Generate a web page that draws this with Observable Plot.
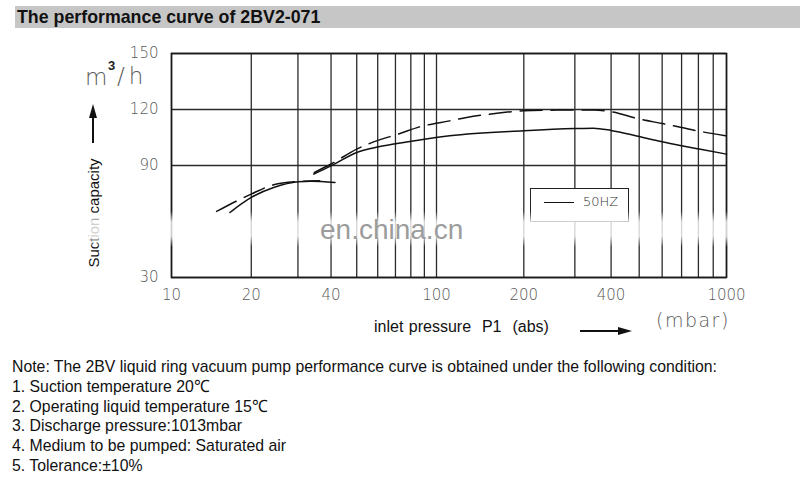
<!DOCTYPE html>
<html>
<head>
<meta charset="utf-8">
<script src="https://cdn.jsdelivr.net/npm/d3@7"></script>
<script src="https://cdn.jsdelivr.net/npm/@observablehq/plot@0.6"></script>
<style>
  html, body { margin: 0; padding: 0; background: #fff; }
  #wrap { position: relative; width: 800px; height: 481px; overflow: hidden; font-family: "Liberation Sans", Arial, sans-serif; }
  .abs { position: absolute; white-space: pre; }
  #title { left: 15px; top: 6px; width: 785px; height: 22px; background: #c6c6c6; font-weight: bold; font-size: 17.8px; line-height: 22px; color: #111; padding-left: 2px; box-sizing: border-box; }
  #chart { position: absolute; left: 0; top: 30px; }
  .cad { font-family: "DejaVu Sans", sans-serif; font-weight: 200; color: #5a5a5a; }
  #note { left: 12px; top: 357px; font-family: "Liberation Sans", Arial, sans-serif; font-size: 17px; line-height: 19.8px; color: #111; transform-origin: 0 0; }
</style>
</head>
<body>
<div id="wrap">
  <div id="title" class="abs">The performance curve of 2BV2-071</div>
  <div id="chart"></div>

  <!-- y axis unit and label -->
  <div class="abs cad" style="left:85px; top:64px; font-size:23px;">m</div>
  <div class="abs" style="left:108px; top:58px; font-size:13px; font-weight:bold; color:#222;">3</div>
  <div class="abs cad" style="left:117px; top:63px; font-size:23px; letter-spacing:4px;">/h</div>
  <div class="abs" style="left:92px; top:115px; width:1.5px; height:28px; background:#111;"></div>
  <div class="abs" style="left:89px; top:104px; width:0; height:0; border-left:4px solid transparent; border-right:4px solid transparent; border-bottom:14px solid #111;"></div>
  <div id="ylab" class="abs" style="left:93px; top:213px; transform: translate(-50%,-50%) rotate(-90deg); font-size:15px; color:#111;">Suction capacity</div>

  <!-- x axis label -->
  <div id="xlab" class="abs" style="left:374px; top:318px; font-size:16px; color:#111; word-spacing:1px;">inlet pressure  P1  (abs)</div>
  <div class="abs" style="left:580px; top:330px; width:40px; height:1.5px; background:#111;"></div>
  <div class="abs" style="left:618px; top:327px; width:0; height:0; border-top:4px solid transparent; border-bottom:4px solid transparent; border-left:14px solid #111;"></div>
  <div class="abs cad" style="left:656px; top:309px; font-size:19px; letter-spacing:1.5px;">(mbar)</div>

  <!-- legend -->
  <div id="legend" class="abs" style="left:530px; top:188px; width:99px; height:34px; border:1.3px solid #222; background:#fff; box-sizing:border-box;">
    <div class="abs" style="left:13px; top:13px; width:30px; height:1.4px; background:#111;"></div>
    <div class="abs cad" style="left:52px; top:5px; font-size:13px; color:#333;" id="legtext"></div>
  </div>

  <!-- watermark -->
  <div class="abs" style="left:80px; top:211px; width:670px; height:36px; background:linear-gradient(to bottom, rgba(255,255,255,0), rgba(255,255,255,0.8) 30%, rgba(255,255,255,0.8) 70%, rgba(255,255,255,0));"></div>
  <div class="abs" style="left:320px; top:214px; font-size:28px; color:#9c9c9c;">en.china.cn</div>

  <div id="note" class="abs"></div>
</div>
<script>
// ---- data ----
const seriesNames = ["50HZ", "60HZ"];
const pressureTicks = [10, 20, 40, 60, 100, 200, 400, 600, 1000];
const pressureGrid = [10, 20, 30, 40, 50, 60, 70, 80, 90, 100, 200, 300, 400, 500, 600, 700, 800, 900, 1000];
const capacityTicks = [30, 90, 120, 150];

// 50HZ (solid)
const solidLowP = [16.6, 20, 24.3, 30, 33.6, 41.4];
const solidLowQ = [64.8, 72.9, 78.2, 81.3, 81.6, 80.9];
const solidHighP = [34.4, 40, 50, 60.5, 70, 90, 111, 200, 300, 347, 400, 500, 600, 700, 805, 1000];
const solidHighQ = [85.4, 89.8, 97, 100, 101.6, 104.1, 105.9, 108.6, 109.8, 110, 108.8, 105.5, 102.7, 100.6, 98.8, 96.1];

// 60HZ (dashed)
const dashLowP = [14.8, 20, 24.3, 30, 36.2];
const dashLowQ = [65.4, 74.7, 79.7, 81.4, 81.8];
const dashHighP = [34.6, 40, 50, 60.5, 71.7, 86.3, 111, 127, 164, 200, 259, 300, 347, 400, 500, 600, 700, 790, 1000];
const dashHighQ = [86.3, 90.8, 98.8, 103.6, 106.8, 110.7, 113.9, 115.7, 118.1, 119.3, 119.7, 119.8, 119.7, 118.8, 114.9, 112.5, 110.4, 108.6, 105.9];

const noteLines = [
  "Note: The 2BV liquid ring vacuum pump performance curve is obtained under the following condition:",
  "1. Suction temperature 20℃",
  "2. Operating liquid temperature 15℃",
  "3. Discharge pressure:1013mbar",
  "4. Medium to be pumped: Saturated air",
  "5. Tolerance:±10%"
];

// ---- build rows ----
function rows(P, Q, series, seg) { return P.map((p, i) => ({p, q: Q[i], series, seg})); }
const solidRows = [...rows(solidLowP, solidLowQ, seriesNames[0], "low"), ...rows(solidHighP, solidHighQ, seriesNames[0], "high")];
const dashRows = [...rows(dashLowP, dashLowQ, seriesNames[1], "low"), ...rows(dashHighP, dashHighQ, seriesNames[1], "high")];

const chart = Plot.plot({
  width: 800,
  height: 315,
  marginTop: 23,
  marginBottom: 68,
  marginLeft: 171,
  marginRight: 74,
  style: {fontFamily: "DejaVu Sans, sans-serif", fontSize: "15px", fontWeight: 200, color: "#5a5a5a", background: "transparent", overflow: "visible"},
  x: {type: "log", domain: [10, 100, 1000], range: [171, 436, 726], ticks: pressureTicks, tickFormat: d => String(d), tickSize: 0, tickPadding: 12, label: null},
  y: {domain: [30, 150], ticks: capacityTicks, tickSize: 0, tickPadding: 13, label: null},
  marks: [
    Plot.ruleX(pressureGrid, {stroke: "#2a2a2a", strokeWidth: 1.3}),
    Plot.ruleY(capacityTicks, {stroke: "#2a2a2a", strokeWidth: 1.3}),
    Plot.frame({stroke: "#1a1a1a", strokeWidth: 1.6}),
    Plot.line(solidRows, {x: "p", y: "q", z: "seg", stroke: "#111", strokeWidth: 1.5, curve: "monotone-x"}),
    Plot.line(dashRows, {x: "p", y: "q", z: "seg", stroke: "#111", strokeWidth: 1.5, strokeDasharray: "22,9", curve: "monotone-x"})
  ]
});
document.getElementById("chart").appendChild(chart);
document.getElementById("legtext").textContent = seriesNames[0];

// note text: condensed to match the reference's narrow face
const note = document.getElementById("note");
note.innerHTML = "";
noteLines.forEach(t => { const d = document.createElement("div"); d.textContent = t; note.appendChild(d); });
const firstW = note.firstChild.getBoundingClientRect().width;
const s = firstW > 0 ? 705 / firstW : 1;
note.style.transform = `scaleX(${s})`;
</script>
</body>
</html>
